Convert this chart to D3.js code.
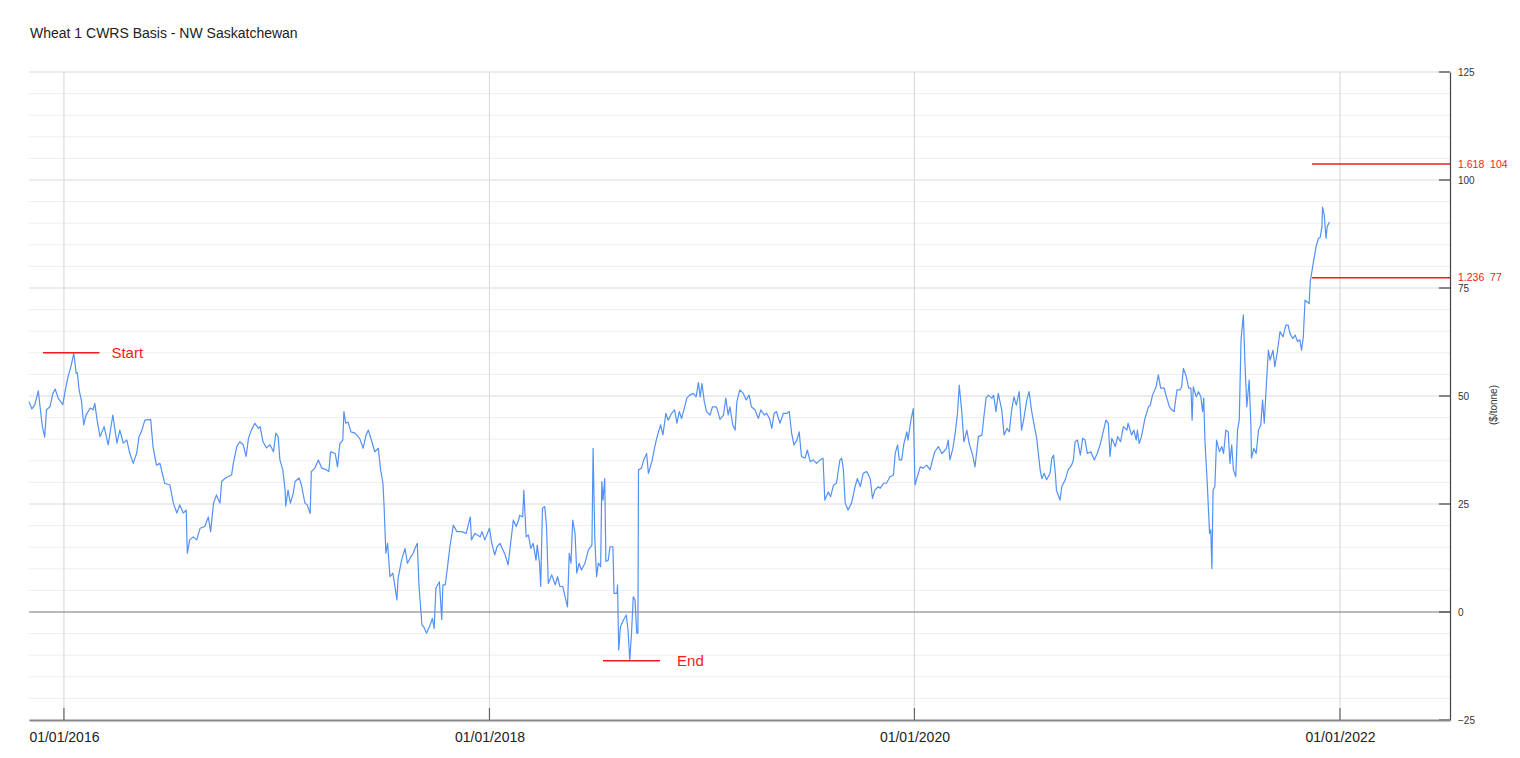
<!DOCTYPE html>
<html><head><meta charset="utf-8">
<script src="https://cdn.jsdelivr.net/npm/d3@7"></script>
<style>
html,body{margin:0;padding:0;background:#fff;}
svg{display:block;font-family:"Liberation Sans",Arial,sans-serif;}
</style></head>
<body>
<svg id="chart" width="1520" height="758"></svg>
<script>
const title = "Wheat 1 CWRS Basis - NW Saskatchewan";
const yAxisLabel = "($/tonne)";
const xDomain = ["2015-11-02", "2022-07-09"];
const yDomain = [-25, 125];
const yMajorTicks = [-25, 0, 25, 50, 75, 100, 125];
const yMinorStep = 5;
const xTickDates = ["2016-01-01", "2018-01-01", "2020-01-01", "2022-01-01"];
const xTickLabels = ["01/01/2016", "01/01/2018", "01/01/2020", "01/01/2022"];

const dates = [
"2015-11-02","2015-11-07","2015-11-12","2015-11-18","2015-11-21","2015-11-25","2015-11-29","2015-12-02","2015-12-08","2015-12-13",
"2015-12-17","2015-12-22","2015-12-30","2016-01-03","2016-01-08","2016-01-13","2016-01-18","2016-01-22","2016-01-24","2016-01-27",
"2016-01-31","2016-02-04","2016-02-08","2016-02-15","2016-02-20","2016-02-23","2016-02-27","2016-03-03","2016-03-10","2016-03-17",
"2016-03-25","2016-04-01","2016-04-06","2016-04-12","2016-04-18","2016-04-23","2016-04-29","2016-05-05","2016-05-09","2016-05-13",
"2016-05-19","2016-05-29","2016-06-02","2016-06-08","2016-06-14","2016-06-22","2016-07-01","2016-07-07","2016-07-13","2016-07-18",
"2016-07-24","2016-07-29","2016-07-31","2016-08-04","2016-08-10","2016-08-16","2016-08-22","2016-08-30","2016-09-05","2016-09-09",
"2016-09-14","2016-09-19","2016-09-25","2016-09-28","2016-10-04","2016-10-09","2016-10-15","2016-10-18","2016-10-24","2016-10-29",
"2016-11-04","2016-11-09","2016-11-13","2016-11-18","2016-11-24","2016-11-30",
"2016-12-03","2016-12-08","2016-12-14","2016-12-20","2016-12-26","2016-12-30","2017-01-03","2017-01-06","2017-01-11","2017-01-15",
"2017-01-16","2017-01-20","2017-01-24","2017-01-29","2017-02-01","2017-02-08","2017-02-12","2017-02-18","2017-02-22","2017-02-27",
"2017-03-01","2017-03-07","2017-03-13","2017-03-19","2017-03-27","2017-03-31","2017-04-03","2017-04-11","2017-04-15","2017-04-19",
"2017-04-24","2017-04-26","2017-04-29","2017-05-03","2017-05-08","2017-05-15","2017-05-23","2017-05-29","2017-06-03","2017-06-07",
"2017-06-13","2017-06-18","2017-06-24","2017-06-28","2017-07-02","2017-07-04","2017-07-07","2017-07-10","2017-07-14","2017-07-19",
"2017-07-21","2017-07-26","2017-07-28","2017-08-03","2017-08-09","2017-08-13","2017-08-19","2017-08-23","2017-08-26","2017-08-30",
"2017-09-02","2017-09-07","2017-09-10","2017-09-15","2017-09-21","2017-09-25","2017-09-28","2017-10-01","2017-10-07","2017-10-11",
"2017-10-13","2017-10-17","2017-10-21","2017-10-25","2017-10-31","2017-11-06","2017-11-14","2017-11-22","2017-11-29","2017-12-01",
"2017-12-07","2017-12-16","2017-12-19","2017-12-24","2018-01-01","2018-01-05","2018-01-10","2018-01-14",
"2018-01-19","2018-01-28","2018-02-02","2018-02-08","2018-02-11","2018-02-16","2018-02-20","2018-02-22","2018-02-27","2018-03-01",
"2018-03-05","2018-03-09","2018-03-13","2018-03-17","2018-03-22","2018-03-24","2018-03-28","2018-03-30","2018-04-02","2018-04-06",
"2018-04-09","2018-04-12","2018-04-18","2018-04-24","2018-04-28","2018-05-02","2018-05-07","2018-05-11","2018-05-15","2018-05-18",
"2018-05-21","2018-05-24","2018-05-28","2018-05-31","2018-06-04","2018-06-08","2018-06-14","2018-06-20","2018-06-26","2018-06-28",
"2018-07-01","2018-07-04","2018-07-07","2018-07-11","2018-07-13","2018-07-15","2018-07-18","2018-07-20","2018-07-24","2018-07-27",
"2018-08-01","2018-08-03","2018-08-08","2018-08-09","2018-08-11","2018-08-14","2018-08-19","2018-08-24","2018-08-27","2018-08-30",
"2018-09-02","2018-09-05","2018-09-08","2018-09-11","2018-09-13",
"2018-09-14","2018-09-19","2018-09-23","2018-09-28","2018-10-01","2018-10-07","2018-10-12","2018-10-16","2018-10-22","2018-10-26",
"2018-10-31","2018-11-04","2018-11-10","2018-11-15","2018-11-19","2018-11-23","2018-11-27","2018-12-01","2018-12-06","2018-12-11",
"2018-12-17","2018-12-22","2018-12-26","2018-12-29","2019-01-01","2019-01-05","2019-01-09","2019-01-15","2019-01-19","2019-01-26",
"2019-02-01","2019-02-07","2019-02-11","2019-02-15","2019-02-18","2019-02-23","2019-02-27","2019-03-02","2019-03-07","2019-03-13",
"2019-03-18","2019-03-23","2019-03-27","2019-04-02","2019-04-08","2019-04-12","2019-04-18","2019-04-22","2019-04-27","2019-05-01",
"2019-05-05","2019-05-09","2019-05-15","2019-05-21","2019-05-27","2019-05-31","2019-06-04","2019-06-08","2019-06-13","2019-06-17",
"2019-06-21","2019-06-27","2019-07-01","2019-07-06","2019-07-11","2019-07-17","2019-07-23","2019-07-28","2019-07-31","2019-08-06",
"2019-08-10","2019-08-15","2019-08-20","2019-08-26","2019-08-29","2019-09-01","2019-09-04","2019-09-09","2019-09-15","2019-09-21",
"2019-09-25","2019-09-30","2019-10-05","2019-10-11","2019-10-17","2019-10-21","2019-10-25","2019-10-31",
"2019-11-03","2019-11-09","2019-11-14","2019-11-20","2019-11-26","2019-11-29","2019-12-03","2019-12-06","2019-12-10","2019-12-14",
"2019-12-19","2019-12-21","2019-12-26","2019-12-30","2020-01-02","2020-01-06","2020-01-11","2020-01-16","2020-01-22","2020-01-28",
"2020-02-01","2020-02-05","2020-02-11","2020-02-17","2020-02-23","2020-02-25","2020-02-28","2020-03-02","2020-03-07","2020-03-11",
"2020-03-15","2020-03-18","2020-03-22","2020-03-26","2020-03-31","2020-04-04","2020-04-10","2020-04-14","2020-04-20","2020-04-26",
"2020-04-30","2020-05-03","2020-05-07","2020-05-13","2020-05-16","2020-05-20","2020-05-24","2020-05-30","2020-06-03","2020-06-08",
"2020-06-12","2020-06-16","2020-06-20","2020-06-24","2020-06-29","2020-07-03","2020-07-07","2020-07-12","2020-07-16","2020-07-20",
"2020-07-24","2020-07-29","2020-08-04","2020-08-07","2020-08-11","2020-08-15","2020-08-21","2020-08-24","2020-08-27","2020-08-30",
"2020-09-01","2020-09-07","2020-09-10","2020-09-16","2020-09-21","2020-09-27","2020-09-30","2020-10-03","2020-10-07","2020-10-12",
"2020-10-16","2020-10-20","2020-10-24","2020-10-30","2020-11-05","2020-11-10","2020-11-15","2020-11-19","2020-11-25","2020-11-29",
"2020-12-02","2020-12-05","2020-12-11","2020-12-15","2020-12-20","2020-12-25","2020-12-31","2021-01-02","2021-01-08","2021-01-12",
"2021-01-16","2021-01-18","2021-01-21","2021-01-25","2021-01-31","2021-02-06",
"2021-02-09","2021-02-13","2021-02-19","2021-02-23","2021-02-27","2021-03-05","2021-03-09","2021-03-14","2021-03-18","2021-03-22",
"2021-03-27","2021-04-01","2021-04-04","2021-04-07","2021-04-12","2021-04-16","2021-04-20","2021-04-22","2021-04-24","2021-04-29",
"2021-05-03","2021-05-07","2021-05-10","2021-05-12","2021-05-14","2021-05-18","2021-05-22","2021-05-24","2021-05-26","2021-05-28",
"2021-05-31","2021-06-03","2021-06-08","2021-06-12","2021-06-15","2021-06-19","2021-06-23","2021-06-26","2021-06-29","2021-07-02",
"2021-07-06","2021-07-09","2021-07-12","2021-07-15","2021-07-19","2021-07-22","2021-07-25","2021-07-29","2021-08-01","2021-08-02",
"2021-08-06","2021-08-10","2021-08-14","2021-08-18","2021-08-21","2021-08-24","2021-08-27","2021-08-31","2021-09-03","2021-09-08",
"2021-09-11","2021-09-15","2021-09-20","2021-09-25","2021-09-30","2021-10-04","2021-10-07","2021-10-12","2021-10-16","2021-10-20",
"2021-10-24","2021-10-27","2021-10-30","2021-11-02","2021-11-09",
"2021-11-11","2021-11-16","2021-11-21","2021-11-25","2021-11-28","2021-12-01","2021-12-02","2021-12-05","2021-12-08","2021-12-10",
"2021-12-14"
];
const values = [
48.7,47,48,51.2,47.5,42.9,40.5,46.8,47.5,50.6,
51.6,49.5,48,51,54.5,56.8,59.9,55.3,55.4,51.4,
49,43.3,45.6,47.2,46.8,48.3,44.4,40.6,42.9,38.7,
45.6,39.1,42.1,39.1,39.8,36.8,34.4,36.8,40.6,41.7,
44.4,44.6,38.3,34,34.4,29.8,29.4,25.2,22.9,24.8,
22.9,23.6,13.6,16.7,17.4,16.7,19.4,19.8,22,18.6,
25.2,27.1,25.2,30.2,31,31.3,31.7,34.4,38.3,39.4,
38.7,36,40.2,42.1,43.7,42.5,
42.9,39.4,38,38.7,37.1,41.4,40.6,35.2,32.9,28.2,
24.5,28.2,25.2,27.5,30.2,31,29.4,25.2,24.8,22.8,
32.5,33.3,35.2,33.3,32.9,32.5,37.1,36.7,33.6,39,
39.8,46.4,43.7,44,41.7,41.4,40.2,37.9,41,42.1,
39.4,37.1,37.9,32.9,29.8,24.4,13.6,15.9,8.2,9,
7.4,2.8,7.8,12,14.7,11.3,12.8,13.6,14.7,15.9,
5.9,-3,-3.4,-4.9,-3,-1.5,-3.8,5.5,7,-1.7,
6.3,6.3,10.5,15.1,20.1,18.6,18.6,18.2,22,16.7,
18.2,17.4,18.6,16.7,19.4,15.9,13.2,15.1,
15.9,13.2,10.9,17.8,21.3,19.8,21.3,22.4,22,28.2,
17.4,17.8,14.7,15.9,12,15.5,11.3,5.9,24,24.4,
19.8,6.6,8.6,6.3,8.2,5.9,5.9,3.5,1.2,13.6,
11.3,21.3,18.2,9,11.3,9.7,11.3,14.4,15.5,37.9,
16.7,8.2,11.3,10.5,30.2,25.9,30.9,11.7,12,15.1,
15.1,4.3,4.3,6.3,-8.8,-3.4,-1.9,-0.7,-4.2,-11.1,
-4.9,3.5,2.8,-4.9,-4.9,
32.9,33.3,35.2,36.7,32.1,34.8,38.3,40.6,43.3,41,
46,44.4,46,46.8,43.7,46.4,44.8,46.8,49.5,50.2,
50.6,49.8,53.1,49.8,52.9,48.7,46.4,45.6,47.5,47.5,
44.6,45.6,49.5,45.6,47.5,43.3,42.1,48.7,51.4,50.6,
49.1,50.2,47.5,46.8,44.8,46.8,45.6,46,44.8,42.5,
46,46.4,43.7,46,46,46.4,41.4,38.7,39.8,41.7,
36,35.6,37.5,34.8,35.2,34.4,35.2,35.6,25.9,27.8,
26.7,29.4,29.8,35.2,35.6,32.9,25.2,23.6,25.2,29,
30.9,29,32.1,32.5,30.9,26.3,28.2,29,
28.6,29.8,29.8,31.3,31.7,36.7,38.7,35.2,35.2,39,
41.7,39.8,44.4,47.1,29.4,31.3,33.6,33.3,34,32.9,
35.2,37.1,38.3,36.7,37.5,37.9,39.8,35.2,37.9,41.4,
46,52.5,46.8,39.4,42.1,39,36.3,33.6,40.6,41,
46,49.5,50.2,49.5,50.2,46.4,50.6,46.8,41,42.5,
41.7,46.8,49.8,47.9,51,42.1,44.8,49.1,51,46.8,
43.7,40.2,32.9,30.9,32.1,30.6,32.1,35.6,36.3,32.1,
28.2,25.9,29,30.6,32.9,34,35.2,39.4,39.8,36.3,
40.2,39.8,36.7,37.1,35.2,36.7,38.7,41,44.4,43.7,
36,40.2,38.3,40.6,39.4,42.9,42.1,43.7,41,42.1,
39.8,42.1,39,40.6,44.8,47.5,
47.8,50.2,52.1,54.9,51.8,51.8,49.8,47.5,46.8,46.4,
51.4,51.4,52.1,56.4,54.5,51.8,51.8,44.4,52.1,49.8,
51,49.8,46.4,49.5,39.8,29.8,18.2,19,10.1,28.2,
29,39.8,37.1,38.3,36.7,42.1,41.7,34.4,38.7,32.9,
31.3,42.1,44.4,63,68.8,56.8,47.5,53.7,42.9,35.6,
37.9,36.7,42.1,43.3,49.1,43.7,51.4,60.6,58.3,60.6,
56.8,59.9,64.9,63.7,66.4,66.4,64.5,63.3,64.1,62.6,
63,60.6,63.7,72.2,71.4,
76.5,80.7,84.6,86.5,86.7,89.2,93.7,91.9,86.5,89.2,
90.3
];

// Annotations (swing start / end, Fibonacci extension levels)
const swingStart = {label: "Start", value: 60, from: "2015-11-26", to: "2016-03-02"};
const swingEnd = {label: "End", value: -11.3, from: "2018-07-15", to: "2018-10-21"};
const fibRatios = ["1.236", "1.618"];
const fibLevels = [77.4, 103.7];
const fibLabels = ["77", "104"];
const fibFrom = "2021-11-14";

const parse = d3.timeParse("%Y-%m-%d");
const data = dates.map((d, i) => ({date: parse(d), value: values[i]}));

const svg = d3.select("#chart");
const L = 29, R = 1450, T = 72, B = 720;
const x = d3.scaleTime().domain(xDomain.map(parse)).range([L, R]);
const y = d3.scaleLinear().domain(yDomain).range([B, T]);

// title
svg.append("text").attr("x", 30).attr("y", 38).attr("font-size", 14).attr("fill", "#222").text(title);

// minor horizontal gridlines
const minor = d3.range(yDomain[0], yDomain[1] + 0.001, yMinorStep).filter(v => !yMajorTicks.includes(v));
svg.append("g").selectAll("line").data(minor).join("line")
  .attr("x1", L).attr("x2", R).attr("y1", d => y(d)).attr("y2", d => y(d))
  .attr("stroke", "#eeeeee").attr("stroke-width", 1);
// major horizontal gridlines
svg.append("g").selectAll("line").data(yMajorTicks.filter(v => v !== 0 && v !== yDomain[0])).join("line")
  .attr("x1", L).attr("x2", R).attr("y1", d => y(d)).attr("y2", d => y(d))
  .attr("stroke", "#d9d9d9").attr("stroke-width", 1);
// vertical gridlines
svg.append("g").selectAll("line").data(xTickDates.map(parse)).join("line")
  .attr("x1", d => x(d)).attr("x2", d => x(d)).attr("y1", T).attr("y2", B)
  .attr("stroke", "#dcdcdc").attr("stroke-width", 1.2);
// zero line
svg.append("line").attr("x1", L).attr("x2", R).attr("y1", y(0)).attr("y2", y(0))
  .attr("stroke", "#777").attr("stroke-width", 1.2);

// series
const line = d3.line().x(d => x(d.date)).y(d => y(d.value));
svg.append("path").datum(data).attr("d", line)
  .attr("fill", "none").attr("stroke", "#5391f6").attr("stroke-width", 1.2)
  .attr("stroke-linejoin", "round");

// right axis
const yAxis = d3.axisRight(y).tickValues(yMajorTicks).tickSize(0).tickPadding(8);
const gy = svg.append("g").attr("transform", `translate(${R},0)`).call(yAxis);
gy.select(".domain").attr("stroke", "#444").attr("stroke-width", 1.2);
gy.selectAll("text").attr("font-size", 10).attr("fill", "#333").attr("font-family", "Liberation Sans, Arial, sans-serif");
svg.append("g").selectAll("line").data(yMajorTicks).join("line")
  .attr("x1", R - 11).attr("x2", R).attr("y1", d => y(d)).attr("y2", d => y(d))
  .attr("stroke", "#444").attr("stroke-width", 1.2);
svg.append("text").attr("transform", `translate(1497,405) rotate(-90)`)
  .attr("text-anchor", "middle").attr("font-size", 10).attr("fill", "#333").text(yAxisLabel);

// bottom axis
const xAxis = d3.axisBottom(x).tickValues(xTickDates.map(parse))
  .tickFormat((d, i) => xTickLabels[i]).tickSize(0).tickPadding(12);
const gx = svg.append("g").attr("transform", `translate(0,${B})`).call(xAxis);
gx.select(".domain").attr("stroke", "#888").attr("stroke-width", 2);
gx.selectAll("text").attr("font-size", 14).attr("fill", "#222").attr("font-family", "Liberation Sans, Arial, sans-serif");
svg.append("g").selectAll("line").data(xTickDates.map(parse)).join("line")
  .attr("x1", d => x(d)).attr("x2", d => x(d)).attr("y1", B - 12).attr("y2", B)
  .attr("stroke", "#666").attr("stroke-width", 1.2);

// annotations
const red = "#f21b1b";
[[swingStart, 12], [swingEnd, 17]].forEach(([s, gap]) => {
  svg.append("line").attr("x1", x(parse(s.from))).attr("x2", x(parse(s.to)))
    .attr("y1", y(s.value)).attr("y2", y(s.value)).attr("stroke", red).attr("stroke-width", 1.5);
  svg.append("text").attr("x", x(parse(s.to)) + gap).attr("y", y(s.value) + 5.5)
    .attr("font-size", 15).attr("fill", red).text(s.label);
});
fibLevels.forEach((v, i) => {
  svg.append("line").attr("x1", x(parse(fibFrom))).attr("x2", R)
    .attr("y1", y(v)).attr("y2", y(v)).attr("stroke", red).attr("stroke-width", 1.5);
  svg.append("text").attr("x", R + 8).attr("y", y(v) + 3.5).attr("font-size", 10.5).attr("fill", red)
    .attr("xml:space", "preserve").text(fibRatios[i] + "  " + fibLabels[i]);
});
</script>
</body></html>
